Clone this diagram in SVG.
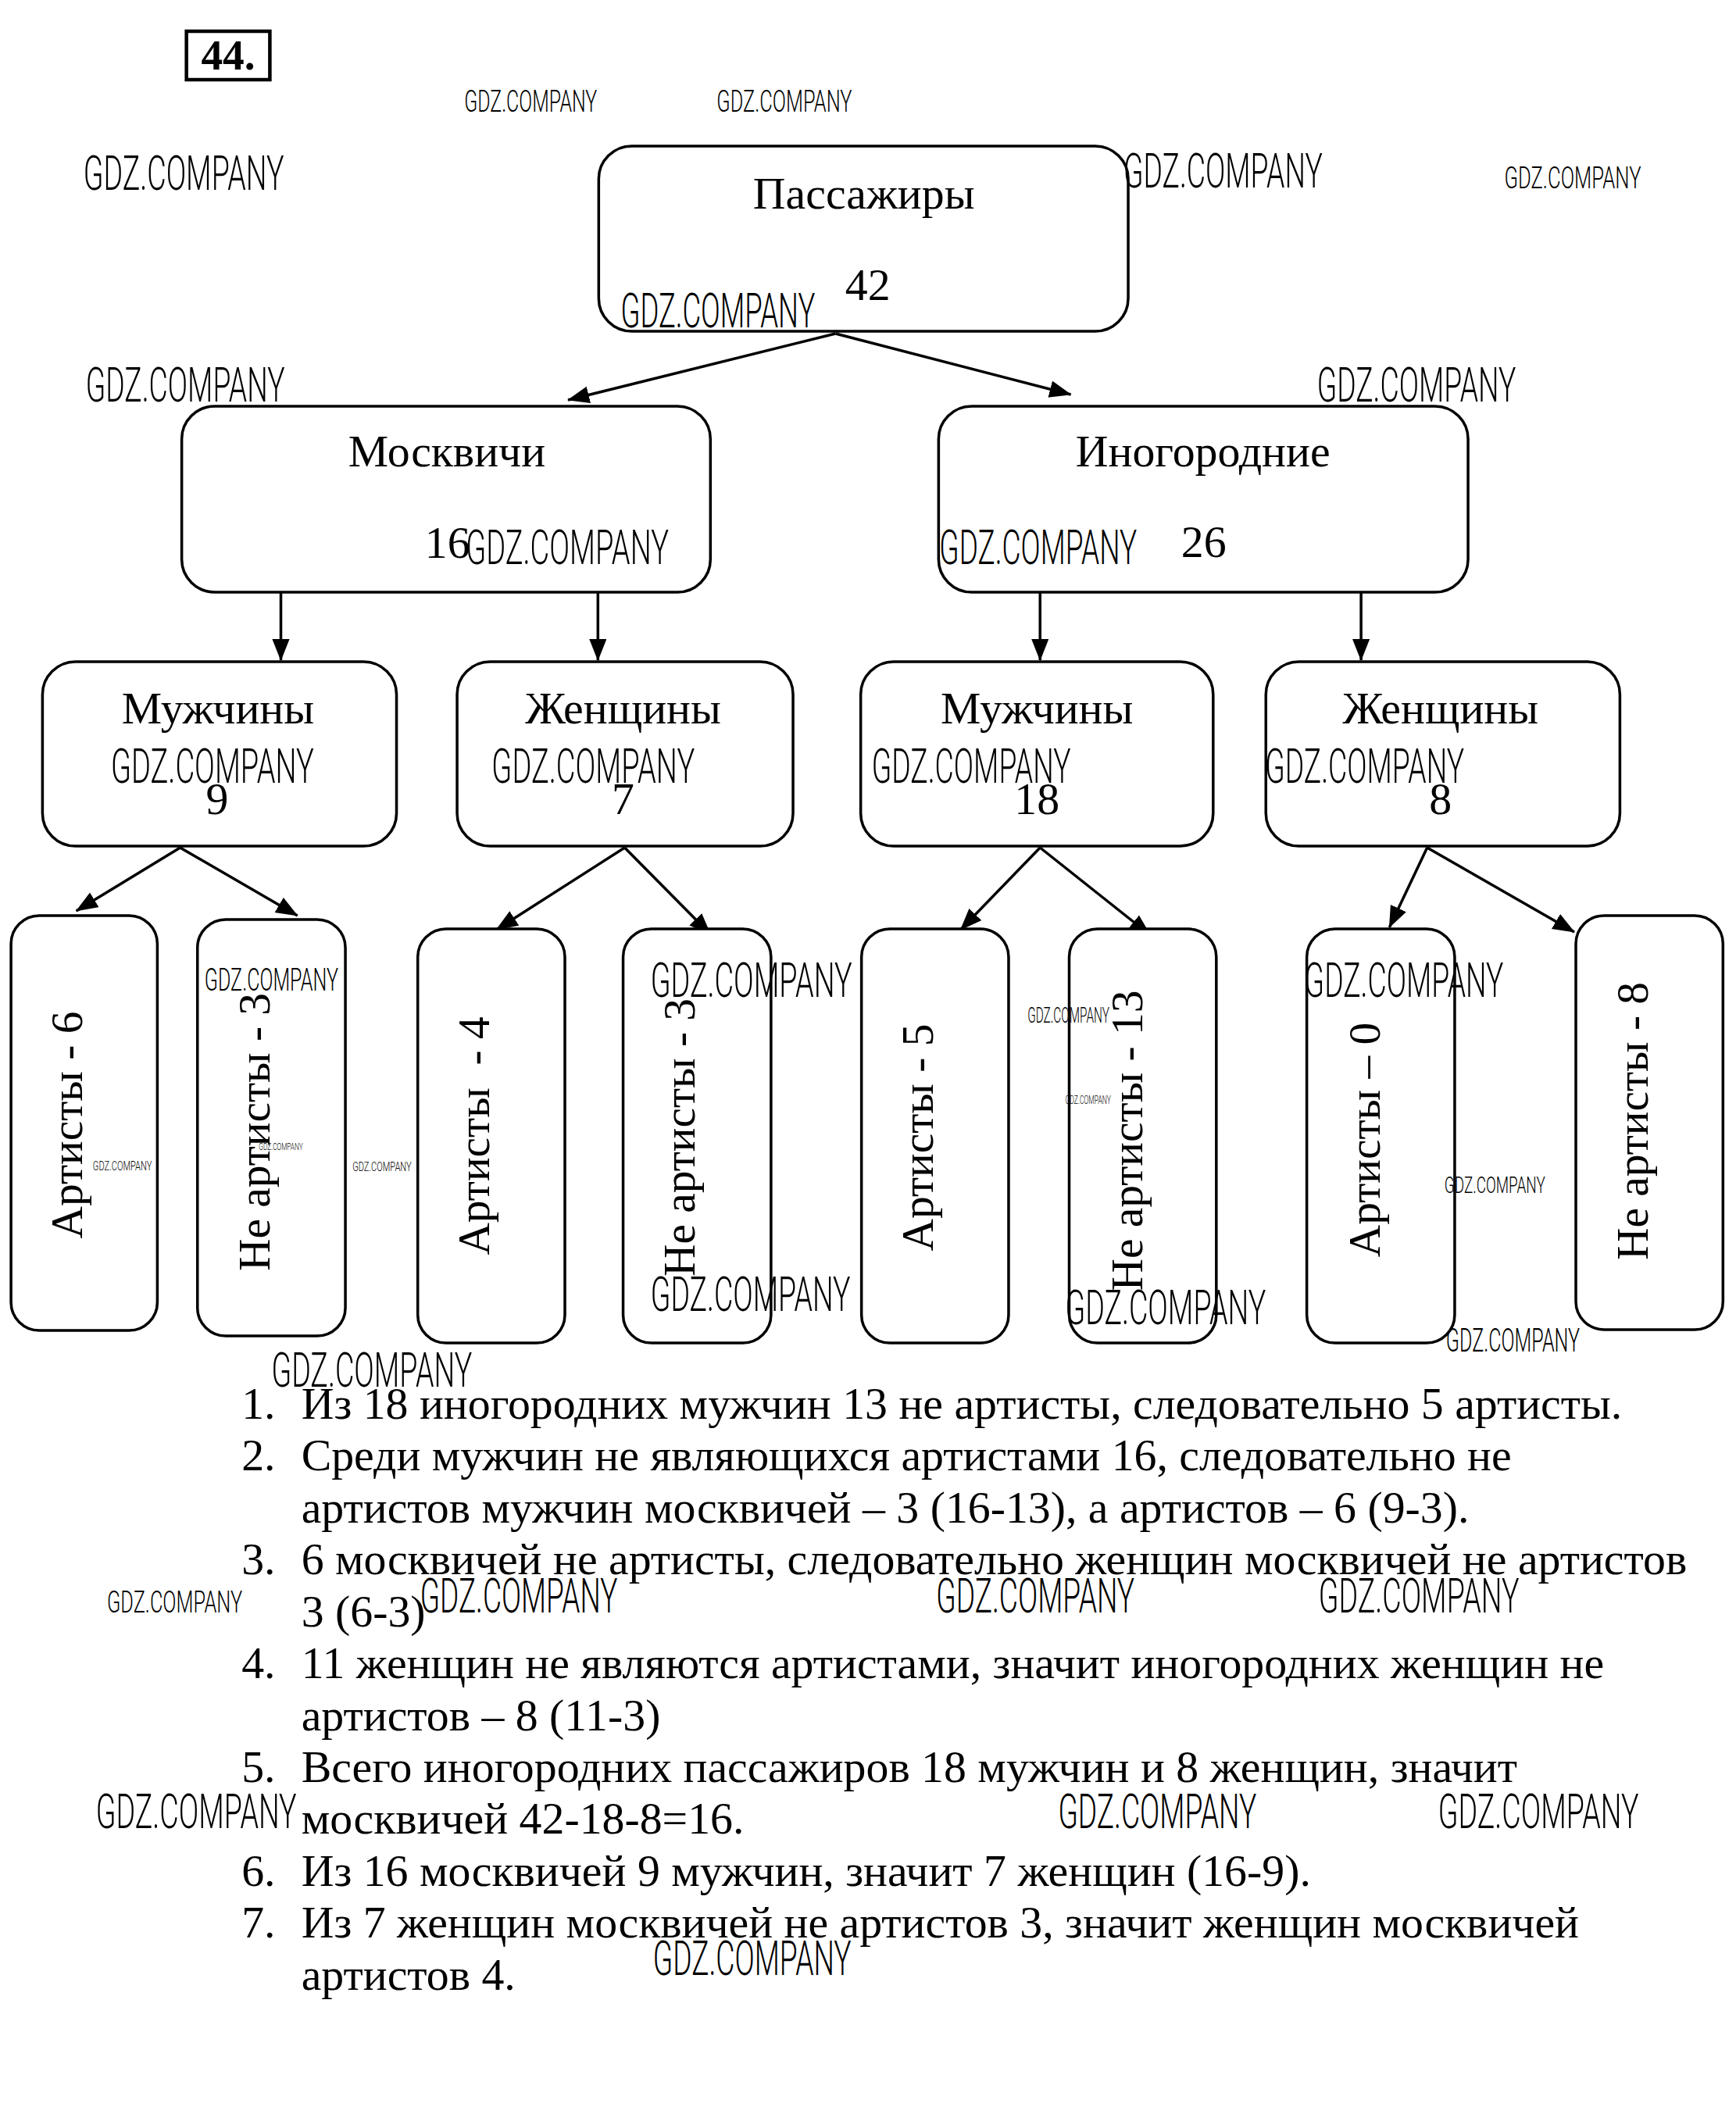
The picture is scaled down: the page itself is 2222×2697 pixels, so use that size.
<svg xmlns="http://www.w3.org/2000/svg" width="2222" height="2697" viewBox="0 0 2222 2697">
<style>
.bg{fill:#fff}
.box{fill:#fff;stroke:#000;stroke-width:3.5}
.lbl{font-family:"Liberation Serif","Times New Roman",serif;font-size:57.4px;fill:#000}
.mid{text-anchor:middle}
.pre{white-space:pre}
.wm{font-family:Roboto,"Liberation Sans",Arial,sans-serif;font-weight:300;fill:#000}
.con{stroke:#000;stroke-width:3.5;fill:none}
</style>
<defs>
<marker id="ah" markerUnits="userSpaceOnUse" markerWidth="30" markerHeight="24" refX="27" refY="11" orient="auto">
<path d="M0,0 L28,11 L0,22 z" fill="#000"/>
</marker>
</defs>
<rect class="bg" x="0" y="0" width="2222" height="2697"/>
<g id="page" transform="translate(0,2) scale(1.007,1)">

<g id="title">
<rect x="237" y="38" width="106" height="62" fill="#fff" stroke="#000" stroke-width="4.5"/>
<text x="290" y="87" class="lbl mid" style="font-weight:bold;font-size:55px">44.</text>
</g>

<g id="connectors">
<line class="con" x1="1062" y1="425" x2="722" y2="510" marker-end="url(#ah)"/>
<line class="con" x1="1062" y1="425" x2="1361" y2="503" marker-end="url(#ah)"/>
<line class="con" x1="357" y1="757" x2="357" y2="843" marker-end="url(#ah)"/>
<line class="con" x1="760" y1="757" x2="760" y2="843" marker-end="url(#ah)"/>
<line class="con" x1="1322" y1="757" x2="1322" y2="843" marker-end="url(#ah)"/>
<line class="con" x1="1730" y1="757" x2="1730" y2="843" marker-end="url(#ah)"/>
<line class="con" x1="229" y1="1083" x2="97" y2="1164" marker-end="url(#ah)"/>
<line class="con" x1="229" y1="1083" x2="378" y2="1170" marker-end="url(#ah)"/>
<line class="con" x1="794" y1="1083" x2="631" y2="1188" marker-end="url(#ah)"/>
<line class="con" x1="794" y1="1083" x2="903" y2="1194" marker-end="url(#ah)"/>
<line class="con" x1="1322" y1="1083" x2="1221" y2="1188" marker-end="url(#ah)"/>
<line class="con" x1="1322" y1="1083" x2="1462" y2="1195" marker-end="url(#ah)"/>
<line class="con" x1="1814" y1="1083" x2="1766" y2="1185" marker-end="url(#ah)"/>
<line class="con" x1="1814" y1="1083" x2="2001" y2="1191" marker-end="url(#ah)"/>
</g>

<g id="n-passengers">
<rect class="box" x="761" y="185" width="673" height="237" rx="42"/>
<text class="lbl mid" x="1098" y="265">Пассажиры</text>
<text class="lbl mid" x="1103" y="382">42</text>
</g>

<g id="n-moscow">
<rect class="box" x="231" y="518" width="672" height="238" rx="42"/>
<text class="lbl mid" x="568" y="595">Москвичи</text>
<text class="lbl" x="540" y="712">16</text>
</g>

<g id="n-other">
<rect class="box" x="1193" y="518" width="673" height="238" rx="42"/>
<text class="lbl mid" x="1529" y="595">Иногородние</text>
<text class="lbl mid" x="1530" y="711">26</text>
</g>

<g id="n-m-men">
<rect class="box" x="54" y="845" width="450" height="236" rx="42"/>
<text class="lbl mid" x="277" y="924">Мужчины</text>
<text class="lbl mid" x="276" y="1040">9</text>
</g>

<g id="n-m-women">
<rect class="box" x="581" y="845" width="427" height="236" rx="42"/>
<text class="lbl mid" x="792" y="924">Женщины</text>
<text class="lbl mid" x="792" y="1040">7</text>
</g>

<g id="n-o-men">
<rect class="box" x="1094" y="845" width="448" height="236" rx="42"/>
<text class="lbl mid" x="1318" y="924">Мужчины</text>
<text class="lbl mid" x="1318" y="1040">18</text>
</g>

<g id="n-o-women">
<rect class="box" x="1609" y="845" width="450" height="236" rx="42"/>
<text class="lbl mid" x="1831" y="924">Женщины</text>
<text class="lbl mid" x="1831" y="1040">8</text>
</g>

<g id="n-mm-art">
<rect class="box" x="14" y="1170" width="186" height="531" rx="36"/>
<text class="lbl mid" transform="translate(104,1438) rotate(-90)" x="0" y="0">Артисты - 6</text>
</g>

<g id="n-mm-nonart">
<rect class="box" x="251" y="1175" width="188" height="533" rx="36"/>
<text class="lbl mid" transform="translate(343,1447) rotate(-90)" x="0" y="0">Не артисты - 3</text>
</g>

<g id="n-mw-art">
<rect class="box" x="531" y="1187" width="187" height="530" rx="36"/>
<text class="lbl mid pre" transform="translate(622,1452) rotate(-90)" x="0" y="0">Артисты  - 4</text>
</g>

<g id="n-mw-nonart">
<rect class="box" x="792" y="1187" width="188" height="530" rx="36"/>
<text class="lbl mid" transform="translate(883,1454) rotate(-90)" x="0" y="0">Не артисты - 3</text>
</g>

<g id="n-om-art">
<rect class="box" x="1095" y="1187" width="187" height="530" rx="36"/>
<text class="lbl mid" transform="translate(1186,1454) rotate(-90)" x="0" y="0">Артисты - 5</text>
</g>

<g id="n-om-nonart">
<rect class="box" x="1359" y="1187" width="187" height="530" rx="36"/>
<text class="lbl mid" transform="translate(1452,1458) rotate(-90)" x="0" y="0">Не артисты - 13</text>
</g>

<g id="n-ow-art">
<rect class="box" x="1661" y="1187" width="188" height="530" rx="36"/>
<text class="lbl mid" transform="translate(1754,1457) rotate(-90)" x="0" y="0">Артисты – 0</text>
</g>

<g id="n-ow-nonart">
<rect class="box" x="2003" y="1170" width="187" height="530" rx="36"/>
<text class="lbl mid" transform="translate(2094,1433) rotate(-90)" x="0" y="0">Не артисты - 8</text>
</g>

<g id="solution">
<text class="lbl" x="307" y="1814">1.</text>
<text class="lbl" x="383" y="1814">Из 18 иногородних мужчин 13 не артисты, следовательно 5 артисты.</text>
<text class="lbl" x="307" y="1880">2.</text>
<text class="lbl" x="383" y="1880">Среди мужчин не являющихся артистами 16, следовательно не</text>
<text class="lbl" x="383" y="1947">артистов мужчин москвичей – 3 (16-13), а артистов – 6 (9-3).</text>
<text class="lbl" x="307" y="2013">3.</text>
<text class="lbl" x="383" y="2013">6 москвичей не артисты, следовательно женщин москвичей не артистов</text>
<text class="lbl" x="383" y="2080">3 (6-3)</text>
<text class="lbl" x="307" y="2146">4.</text>
<text class="lbl" x="383" y="2146">11 женщин не являются артистами, значит иногородних женщин не</text>
<text class="lbl" x="383" y="2213">артистов – 8 (11-3)</text>
<text class="lbl" x="307" y="2279">5.</text>
<text class="lbl" x="383" y="2279">Всего иногородних пассажиров 18 мужчин и 8 женщин, значит</text>
<text class="lbl" x="383" y="2345">москвичей 42-18-8=16.</text>
<text class="lbl" x="307" y="2412">6.</text>
<text class="lbl" x="383" y="2412">Из 16 москвичей 9 мужчин, значит 7 женщин (16-9).</text>
<text class="lbl" x="307" y="2478">7.</text>
<text class="lbl" x="383" y="2478">Из 7 женщин москвичей не артистов 3, значит женщин москвичей</text>
<text class="lbl" x="383" y="2545">артистов 4.</text>
</g>

<g id="watermarks">
<text class="wm" x="590" y="141" font-size="38" textLength="169" lengthAdjust="spacingAndGlyphs">GDZ.COMPANY</text>
<text class="wm" x="911" y="141" font-size="38" textLength="172" lengthAdjust="spacingAndGlyphs">GDZ.COMPANY</text>
<text class="wm" x="106" y="241" font-size="62" textLength="255" lengthAdjust="spacingAndGlyphs">GDZ.COMPANY</text>
<text class="wm" x="1428" y="238" font-size="62" textLength="253" lengthAdjust="spacingAndGlyphs">GDZ.COMPANY</text>
<text class="wm" x="1912" y="239" font-size="38" textLength="174" lengthAdjust="spacingAndGlyphs">GDZ.COMPANY</text>
<text class="wm" x="789" y="417" font-size="62" textLength="247" lengthAdjust="spacingAndGlyphs">GDZ.COMPANY</text>
<text class="wm" x="109" y="512" font-size="62" textLength="253" lengthAdjust="spacingAndGlyphs">GDZ.COMPANY</text>
<text class="wm" x="1674" y="512" font-size="62" textLength="253" lengthAdjust="spacingAndGlyphs">GDZ.COMPANY</text>
<text class="wm" x="592" y="720" font-size="62" textLength="258" lengthAdjust="spacingAndGlyphs">GDZ.COMPANY</text>
<text class="wm" x="1194" y="720" font-size="62" textLength="251" lengthAdjust="spacingAndGlyphs">GDZ.COMPANY</text>
<text class="wm" x="141" y="1000" font-size="62" textLength="258" lengthAdjust="spacingAndGlyphs">GDZ.COMPANY</text>
<text class="wm" x="625" y="1000" font-size="62" textLength="258" lengthAdjust="spacingAndGlyphs">GDZ.COMPANY</text>
<text class="wm" x="1108" y="1000" font-size="62" textLength="253" lengthAdjust="spacingAndGlyphs">GDZ.COMPANY</text>
<text class="wm" x="1608" y="1000" font-size="62" textLength="253" lengthAdjust="spacingAndGlyphs">GDZ.COMPANY</text>
<text class="wm" x="260" y="1266" font-size="41" textLength="170" lengthAdjust="spacingAndGlyphs">GDZ.COMPANY</text>
<text class="wm" x="827" y="1274" font-size="62" textLength="256" lengthAdjust="spacingAndGlyphs">GDZ.COMPANY</text>
<text class="wm" x="1306" y="1307" font-size="28" textLength="104" lengthAdjust="spacingAndGlyphs">GDZ.COMPANY</text>
<text class="wm" x="1658" y="1274" font-size="62" textLength="253" lengthAdjust="spacingAndGlyphs">GDZ.COMPANY</text>
<text class="wm" x="118" y="1496" font-size="17" textLength="75" lengthAdjust="spacingAndGlyphs">GDZ.COMPANY</text>
<text class="wm" x="329" y="1470" font-size="13" textLength="56" lengthAdjust="spacingAndGlyphs">GDZ.COMPANY</text>
<text class="wm" x="448" y="1497" font-size="17" textLength="75" lengthAdjust="spacingAndGlyphs">GDZ.COMPANY</text>
<text class="wm" x="1354" y="1411" font-size="15" textLength="58" lengthAdjust="spacingAndGlyphs">GDZ.COMPANY</text>
<text class="wm" x="1836" y="1525" font-size="30" textLength="128" lengthAdjust="spacingAndGlyphs">GDZ.COMPANY</text>
<text class="wm" x="827" y="1676" font-size="62" textLength="254" lengthAdjust="spacingAndGlyphs">GDZ.COMPANY</text>
<text class="wm" x="1354" y="1693" font-size="62" textLength="255" lengthAdjust="spacingAndGlyphs">GDZ.COMPANY</text>
<text class="wm" x="1838" y="1728" font-size="42" textLength="170" lengthAdjust="spacingAndGlyphs">GDZ.COMPANY</text>
<text class="wm" x="345" y="1773" font-size="62" textLength="255" lengthAdjust="spacingAndGlyphs">GDZ.COMPANY</text>
<text class="wm" x="136" y="2062" font-size="38" textLength="172" lengthAdjust="spacingAndGlyphs">GDZ.COMPANY</text>
<text class="wm" x="534" y="2062" font-size="62" textLength="251" lengthAdjust="spacingAndGlyphs">GDZ.COMPANY</text>
<text class="wm" x="1190" y="2062" font-size="62" textLength="252" lengthAdjust="spacingAndGlyphs">GDZ.COMPANY</text>
<text class="wm" x="1676" y="2062" font-size="62" textLength="255" lengthAdjust="spacingAndGlyphs">GDZ.COMPANY</text>
<text class="wm" x="122" y="2338" font-size="62" textLength="255" lengthAdjust="spacingAndGlyphs">GDZ.COMPANY</text>
<text class="wm" x="1345" y="2338" font-size="62" textLength="252" lengthAdjust="spacingAndGlyphs">GDZ.COMPANY</text>
<text class="wm" x="1828" y="2338" font-size="62" textLength="255" lengthAdjust="spacingAndGlyphs">GDZ.COMPANY</text>
<text class="wm" x="830" y="2526" font-size="62" textLength="252" lengthAdjust="spacingAndGlyphs">GDZ.COMPANY</text>
</g>
</g>
</svg>
